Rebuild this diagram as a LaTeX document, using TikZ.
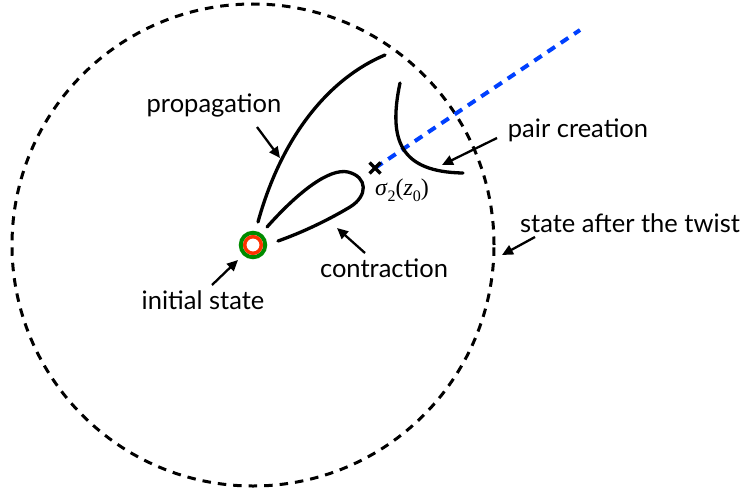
\documentclass[tikz,border=0pt]{standalone}
\usepackage{fontspec}
\setmainfont{Lato}
\newfontfamily\timesf{Liberation Serif}
\usetikzlibrary{arrows.meta,calc}
\definecolor{myblue}{RGB}{0,64,255}
\definecolor{mygreen}{RGB}{0,140,0}
\definecolor{myred}{RGB}{255,50,0}
\begin{document}
\begin{tikzpicture}[x=1pt,y=-1pt,
  lbl/.style={font=\fontsize{25.5}{28}\selectfont, inner sep=0pt},
  curve/.style={line width=3.3pt, line cap=round},
  pointer/.style={line width=2.3pt, -{Triangle[length=11pt,width=10pt]}},
  ring/.style={line width=3pt, dash pattern=on 8.5pt off 7pt},
  ray/.style={line width=4pt, myblue, dash pattern=on 9pt off 7pt}
]
\useasboundingbox (0,0) rectangle (752,495);
% outer dashed circle
\draw[ring] (253,245) circle (241pt);
% blue ray
\coordinate (z0) at (375,168);
\coordinate (rayend) at (580,30);
\draw[ray] (z0) -- (rayend);
% curves
\draw[curve] (258,222) .. controls (282,135) and (330,78) .. (385,55);
\draw[curve] (267,227) .. controls (300,190) and (330,168) .. (348,172)
  .. controls (368,177) and (368,196) .. (350,207)
  .. controls (325,222) and (298,234) .. (278,241);
\draw[curve] (400,83) .. controls (388,140) and (400,172) .. (463,173);
% cross
\draw[line width=3.3pt] ($(z0)+(-5.5,-5.5)$) -- ($(z0)+(5.5,5.5)$);
\draw[line width=3.3pt] ($(z0)+(-5.5,5.5)$) -- ($(z0)+(5.5,-5.5)$);
\node[font=\fontsize{24}{26}\selectfont\timesf, inner sep=0pt] (sig) at (402,190)
  {\textit{σ}\raisebox{-0.25em}{\fontsize{16}{17}\selectfont 2}(\textit{z}\raisebox{-0.25em}{\fontsize{16}{17}\selectfont 0})};
% initial state marker
\node[circle, minimum size=24.5pt, draw=mygreen, line width=4pt, inner sep=0pt] (init) at (253,245) {};
\draw[myred, line width=3.5pt, fill=white] (init.center) circle (8.3pt);
% labels
\node[lbl] (prop) at (214,105) {propagation};
\node[lbl] (pair) at (578,130) {pair creation};
\node[lbl] (twist) at (630,223) {state after the twist};
\node[lbl] (contr) at (384,268) {contraction};
\node[lbl] (initl) at (203,300) {initial state};
% pointer arrows
\coordinate (propT) at (280,158);
\coordinate (pairT) at (442,165);
\coordinate (twistT) at (502,255);
\coordinate (contrT) at (337,228);
\coordinate (initT) at (238,260);
\draw[pointer] (257,127) -- (propT);
\draw[pointer] (497,138) -- (pairT);
\draw[pointer] (535,237) -- (twistT);
\draw[pointer] (365,253) -- (contrT);
\draw[pointer] (212,285) -- (initT);
\end{tikzpicture}
\end{document}
